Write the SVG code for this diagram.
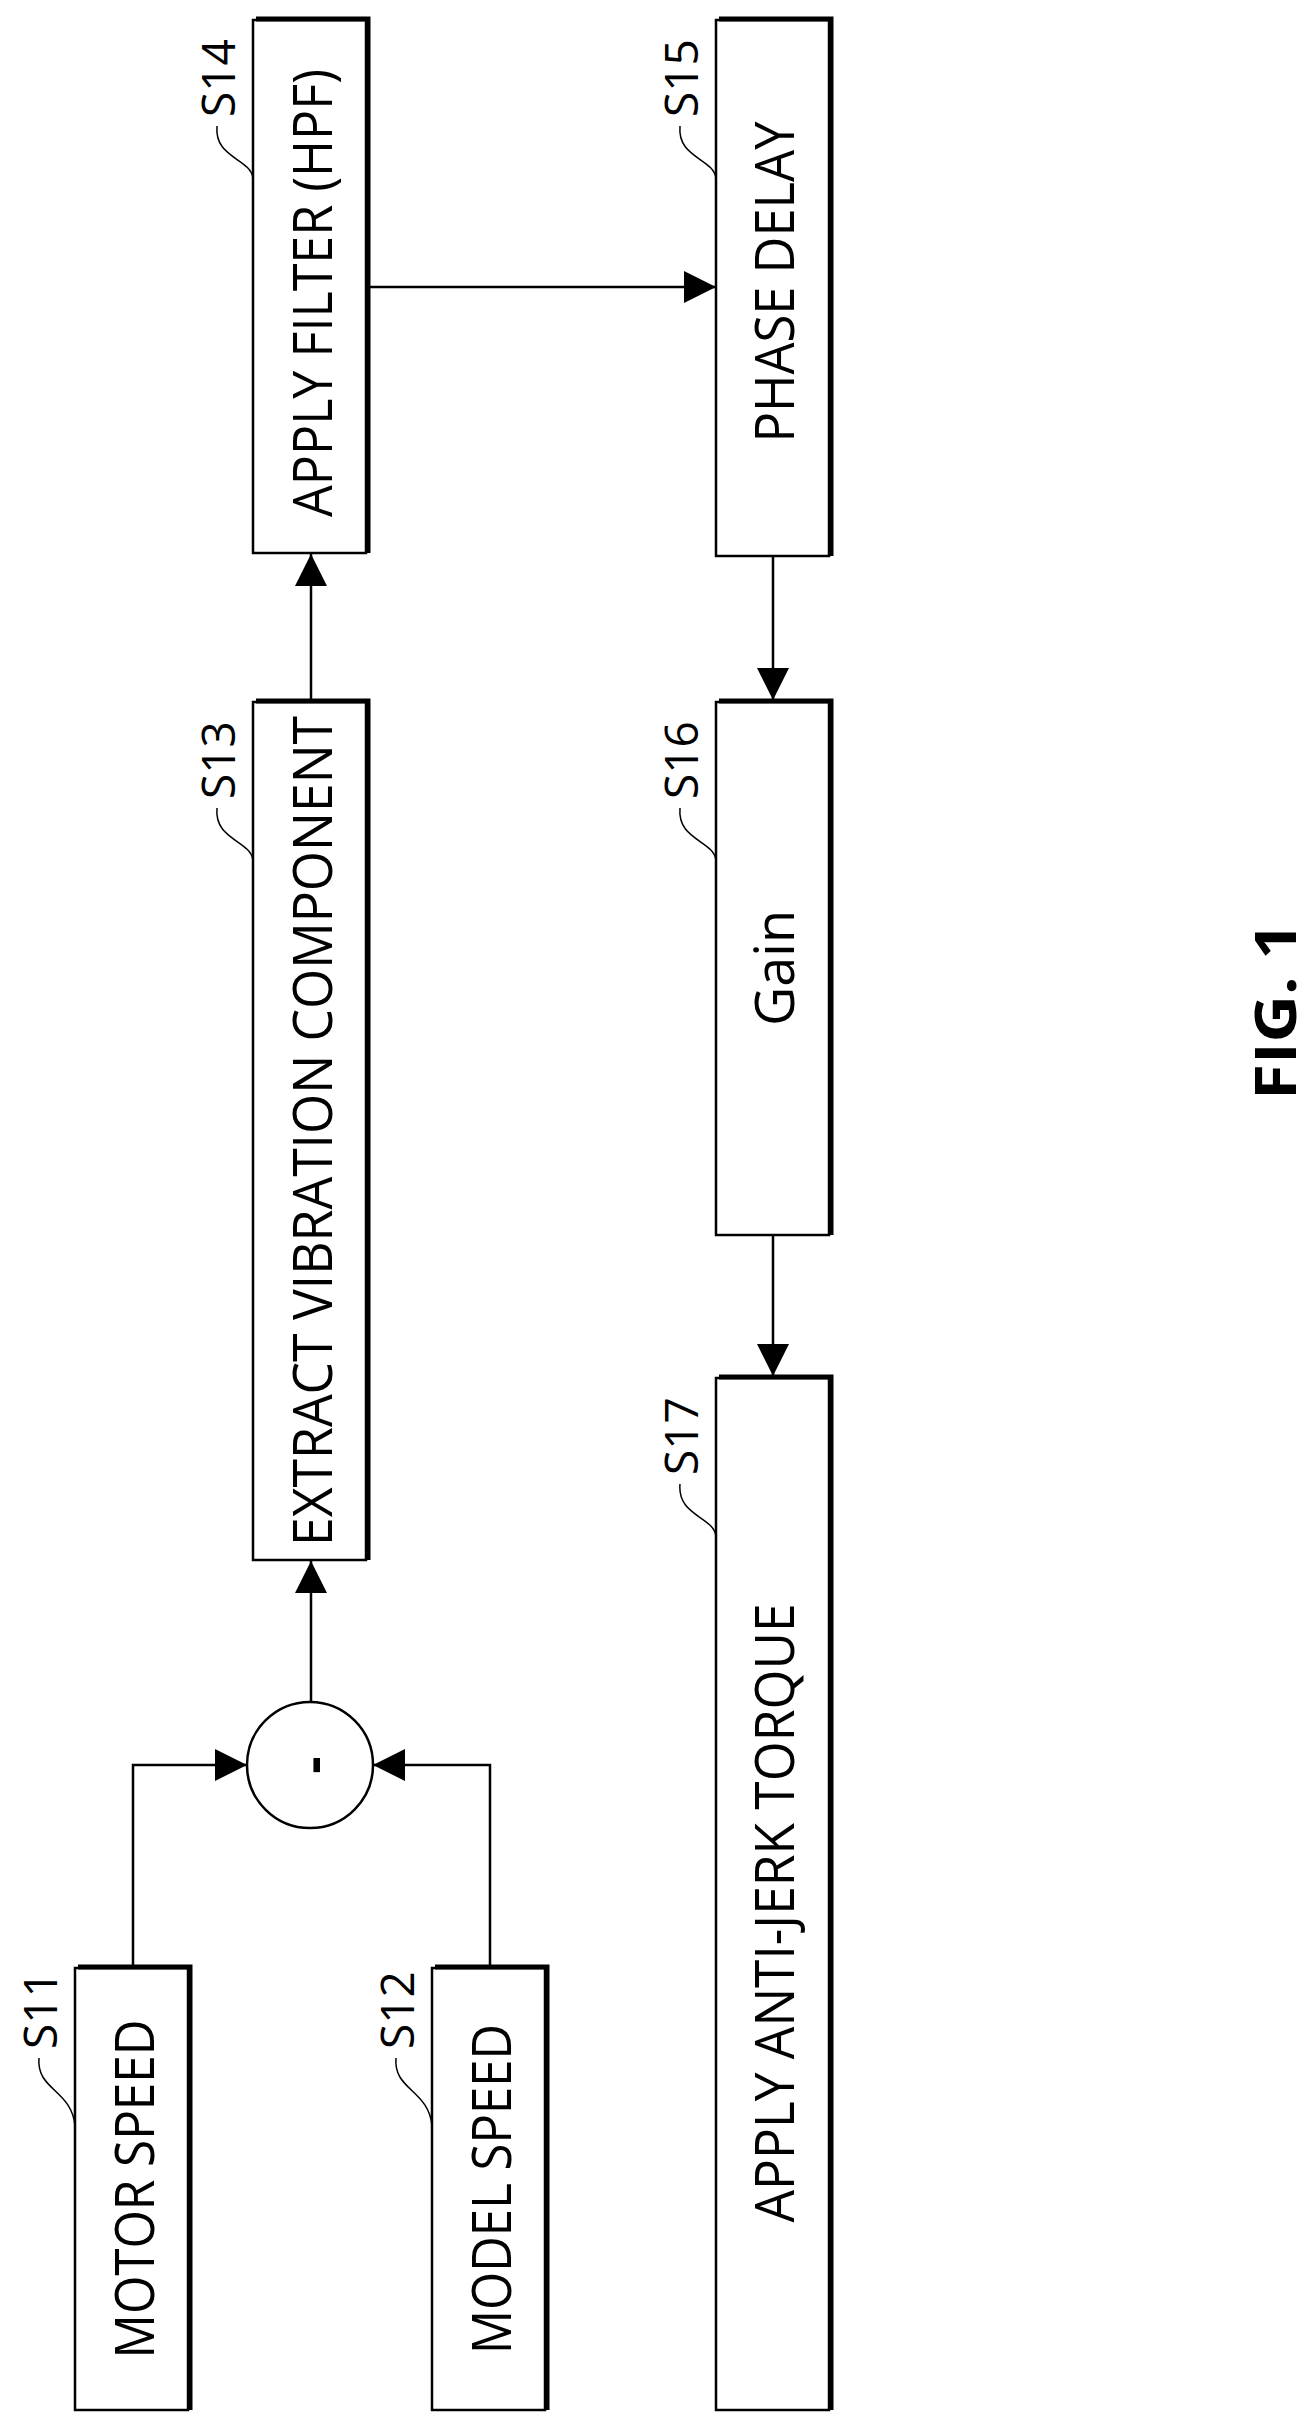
<svg xmlns="http://www.w3.org/2000/svg" width="1315" height="2433" viewBox="0 0 1315 2433">
<style>
.box{fill:#fff;stroke:#000;stroke-width:2.5}
.sh{fill:none;stroke:#000;stroke-width:5}
.t{font-family:"Open Sans","Noto Sans","Liberation Sans",sans-serif;font-size:54px;fill:#000;text-anchor:middle;dominant-baseline:central}
.lb{font-family:"Open Sans","Noto Sans","Liberation Sans",sans-serif;font-size:46px;fill:#000;text-anchor:middle;dominant-baseline:central}
.ld{fill:none;stroke:#000;stroke-width:1.5}
.c{fill:none;stroke:#000;stroke-width:2.5}
</style>
<defs>
<marker id="ah" markerUnits="userSpaceOnUse" markerWidth="32" markerHeight="32" viewBox="0 0 30 30" refX="30" refY="15" orient="auto">
<path d="M0,0 L30,15 L0,30 Z" fill="#000"/>
</marker>
</defs>
<rect width="1315" height="2433" fill="#fff"/>
<g id="S11">
<rect class="box" x="75" y="1968" width="113" height="442"/>
<polyline class="sh" points="78,1967 190,1967 190,2410"/>
<text class="t" transform="translate(133,2189) rotate(-90)" textLength="339" lengthAdjust="spacingAndGlyphs">MOTOR SPEED</text>
<text class="lb" transform="translate(39,2010) rotate(-90)">S11</text>
<path class="ld" d="M39,2058 C36,2090 72,2090 75,2126"/>
</g>
<g id="S12">
<rect class="box" x="432" y="1968" width="113" height="442"/>
<polyline class="sh" points="435,1967 547,1967 547,2410"/>
<text class="t" transform="translate(490,2189) rotate(-90)" textLength="330" lengthAdjust="spacingAndGlyphs">MODEL SPEED</text>
<text class="lb" transform="translate(396,2010) rotate(-90)">S12</text>
<path class="ld" d="M396,2058 C393,2090 429,2090 432,2126"/>
</g>
<g id="sum">
<circle class="c" cx="310" cy="1765" r="63"/>
<text class="t" transform="translate(310,1765) rotate(-90)" style="font-weight:bold">-</text>
</g>
<g id="S13">
<rect class="box" x="253" y="702" width="113" height="858"/>
<polyline class="sh" points="256,701 368,701 368,1560"/>
<text class="t" transform="translate(311,1131) rotate(-90)" textLength="830" lengthAdjust="spacingAndGlyphs">EXTRACT VIBRATION COMPONENT</text>
<text class="lb" transform="translate(217,760) rotate(-90)">S13</text>
<path class="ld" d="M217,808 C214,840 250,840 253,860"/>
</g>
<g id="S14">
<rect class="box" x="253" y="20" width="113" height="533"/>
<polyline class="sh" points="256,19 368,19 368,553"/>
<text class="t" transform="translate(311,293) rotate(-90)" textLength="448" lengthAdjust="spacingAndGlyphs">APPLY FILTER (HPF)</text>
<text class="lb" transform="translate(217,78) rotate(-90)">S14</text>
<path class="ld" d="M217,126 C214,158 250,158 253,178"/>
</g>
<g id="S15">
<rect class="box" x="716" y="20" width="113" height="536"/>
<polyline class="sh" points="719,19 831,19 831,556"/>
<text class="t" transform="translate(773,282) rotate(-90)" textLength="321" lengthAdjust="spacingAndGlyphs">PHASE DELAY</text>
<text class="lb" transform="translate(680,78) rotate(-90)">S15</text>
<path class="ld" d="M680,126 C677,158 713,158 716,178"/>
</g>
<g id="S16">
<rect class="box" x="716" y="702" width="113" height="533"/>
<polyline class="sh" points="719,701 831,701 831,1235"/>
<text class="t" transform="translate(773,968) rotate(-90)">Gain</text>
<text class="lb" transform="translate(680,760) rotate(-90)">S16</text>
<path class="ld" d="M680,808 C677,840 713,840 716,860"/>
</g>
<g id="S17">
<rect class="box" x="716" y="1378" width="113" height="1032"/>
<polyline class="sh" points="719,1377 831,1377 831,2410"/>
<text class="t" transform="translate(773,1913) rotate(-90)" textLength="619" lengthAdjust="spacingAndGlyphs">APPLY ANTI-JERK TORQUE</text>
<text class="lb" transform="translate(680,1436) rotate(-90)">S17</text>
<path class="ld" d="M680,1484 C677,1516 713,1516 716,1536"/>
</g>
<g id="connectors" fill="none" stroke="#000" stroke-width="2.5">
<polyline points="133,1967 133,1765 247,1765" marker-end="url(#ah)"/>
<polyline points="490,1967 490,1765 373,1765" marker-end="url(#ah)"/>
<line x1="311" y1="1702" x2="311" y2="1561" marker-end="url(#ah)"/>
<line x1="311" y1="701" x2="311" y2="554" marker-end="url(#ah)"/>
<line x1="369" y1="287" x2="716" y2="287" marker-end="url(#ah)"/>
<line x1="773" y1="557" x2="773" y2="700" marker-end="url(#ah)"/>
<line x1="773" y1="1236" x2="773" y2="1376" marker-end="url(#ah)"/>
</g>
<text transform="translate(1273,1011) rotate(-90)" style="font-family:'Open Sans','Liberation Sans',sans-serif;font-weight:bold;font-size:58px;text-anchor:middle;dominant-baseline:central" textLength="178" lengthAdjust="spacingAndGlyphs">FIG. 1</text>
</svg>
